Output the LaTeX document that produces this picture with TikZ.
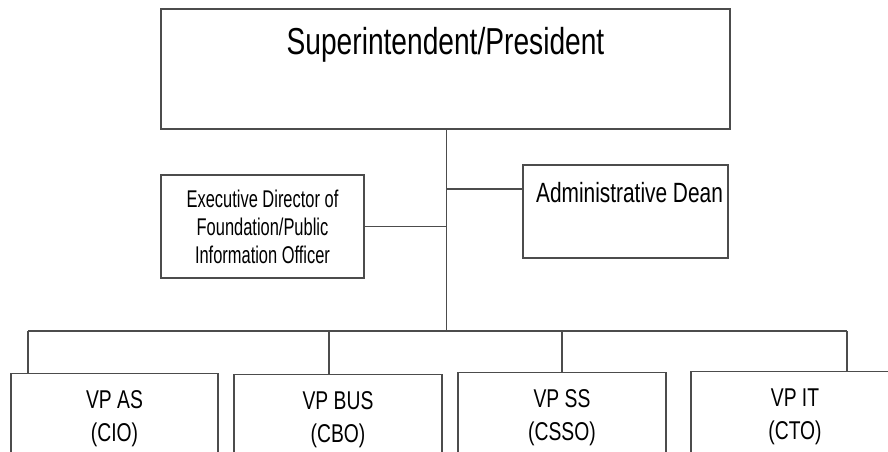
\documentclass[tikz,border=0pt]{standalone}
\usepackage{fontspec}
\setmainfont{Liberation Sans}[FakeStretch=0.75]
\newfontfamily\narrowfont{Liberation Sans}[FakeStretch=0.68]
\usetikzlibrary{positioning}
\tikzset{
	every picture/.style={
		line width=0.8pt,
		node distance=5mm and 5mm
	},
	box/.style={rectangle, draw=black!70, inner sep=0pt},
	vpbox/.style={box, anchor=north, minimum width=5.2cm, minimum height=3cm},
	caption/.style={inner sep=0pt, align=center, text=black},
	link/.style={draw=black!70}
}

\begin{document}
\begin{tikzpicture}
\useasboundingbox (0,0) rectangle (22.2,11.275);
\clip (0,0) rectangle (22.2,11.275);
% boxes
\node[box, minimum width=14.225cm, minimum height=3cm] (supt) at (11.1375,9.55) {};
\node[box, minimum width=5.075cm, minimum height=2.575cm] (execdir) at (6.5625,5.6125) {};
\node[box, minimum width=5.125cm, minimum height=2.325cm] (dean) at (15.6375,5.9875) {};
\node[vpbox, minimum width=5.175cm] (vpas) at (2.8625,1.95) {};
\node[vpbox] (vpbus) at (8.45,1.925) {};
\node[vpbox] (vpss) at (14.05,1.975) {};
\node[vpbox] (vpit) at (19.875,2.0) {};
% texts
\node[caption, font=\fontsize{26.7}{32}\selectfont, below=0.45cm of supt.north] (supttext) {Superintendent/President};
\node[caption, font=\fontsize{19.8}{24}\selectfont, below=0.425cm of dean.north, xshift=0.1cm] (deantext) {Administrative Dean};
\node[caption, font=\narrowfont\fontsize{17.2}{19.9}\selectfont] (exectext) at (execdir) {Executive Director of\\Foundation/Public\\Information Officer};
\foreach \n/\t in {vpas/{VP AS\\(CIO)}, vpbus/{VP BUS\\(CBO)}, vpss/{VP SS\\(CSSO)}, vpit/{VP IT\\(CTO)}}
	\node[caption, font=\fontsize{18.3}{23.5}\selectfont, below=0.425cm of \n.north] (\n text) {\t};
% connectors
\coordinate (trunk) at (11.1625,3.0);
\coordinate (deanjoin) at (11.1625,6.55);
\draw[link] (supt.south -| trunk) -- (trunk);
\draw[link] (deanjoin) -- (deanjoin -| dean.west);
\draw[link] (execdir.east) -- (execdir.east -| trunk);
\coordinate (drop-vpas) at (0.7,3.0);
\coordinate (drop-vpbus) at (8.225,3.0);
\coordinate (drop-vpss) at (14.05,3.0);
\coordinate (drop-vpit) at (21.175,3.0);
\draw[link] (drop-vpas) -- (drop-vpit);
\foreach \n in {vpas,vpbus,vpss,vpit}
	\draw[link] (drop-\n) -- (drop-\n |- \n.north);
\end{tikzpicture}
\end{document}
